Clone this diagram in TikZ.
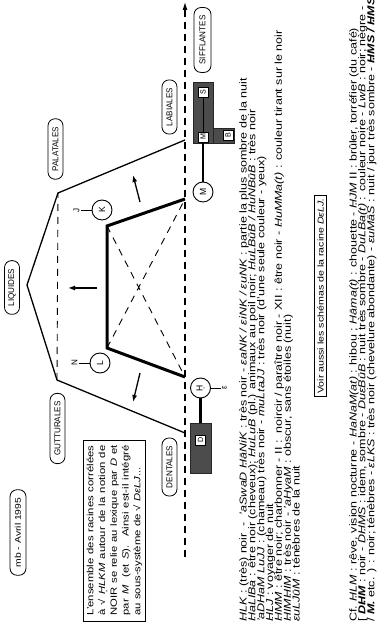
\documentclass[tikz,border=0pt]{standalone}
\usepackage{fontspec}
\setmainfont{Liberation Sans}[FakeStretch=1.25]
\newfontfamily\etiq{Liberation Sans}[FakeStretch=0.95]
\usetikzlibrary{positioning, arrows.meta}

\newcommand{\Hd}{\oalign{H\crcr\hidewidth.\hidewidth}}

\tikzset{
    zone/.style = {draw, rounded corners=7pt, line width=0.8pt, minimum height=15pt,
        inner xsep=8pt, inner ysep=0pt, font=\etiq\fontsize{8.5}{9}\selectfont},
    phon/.style = {draw, circle, line width=0.9pt, minimum size=20pt, inner sep=0pt,
        font=\etiq\fontsize{9}{10}\selectfont},
    voisin/.style = {inner sep=1pt, font=\etiq\fontsize{8.5}{9}\selectfont},
    bloc/.style = {fill=black!70, draw=black!85, line width=0.4pt, inner sep=0pt},
    lettre/.style = {draw, fill=white, line width=0.6pt, minimum width=10pt,
        minimum height=10pt, inner sep=0pt, font=\etiq\fontsize{7.5}{8}\selectfont},
    texte/.style = {align=left, inner sep=0pt,
        font={\fontsize{10}{8.85}\selectfont\lineskiplimit=-20pt\lineskip=0pt}},
    axe/.style = {dash pattern=on 7pt off 5pt, line width=1.1pt},
    repere/.style = {dash pattern=on 7pt off 6pt, line width=0.9pt},
    cadre/.style = {line width=1.3pt},
    noyau/.style = {line width=3pt},
    liaison/.style = {line width=2.4pt},
    fleche/.style = {-{Latex[length=7pt, width=5pt]}, line width=1.3pt}
}

\begin{document}
\begin{tikzpicture}[x=1pt, y=1pt, rotate=90, transform shape]
    \useasboundingbox (0,0) rectangle (628,-385);

    \coordinate (axe0) at (71,-185);
    \coordinate (axe1) at (626,-185);
    \draw[axe, -{Latex[length=8pt, width=5pt]}] (axe0) -- (axe1);

    \coordinate (o1) at (195,-185);
    \coordinate (o2) at (248,-57);
    \coordinate (o3) at (343,-27);
    \coordinate (o4) at (435,-58);
    \coordinate (o5) at (488,-185);
    \draw[cadre] (o1) -- (o2) -- (o3) -- (o4) -- (o5);
    \draw[repere] (o2) -- (o4);

    \coordinate (i1) at (251,-185);
    \coordinate (i2) at (280,-107);
    \coordinate (i3) at (402,-107);
    \coordinate (i4) at (429,-185);
    \draw[repere] (i2) -- (i4) (i3) -- (i1);
    \draw[noyau] (i1) -- (i2) -- (i3) -- (i4);

    \coordinate (haut0) at (340,-97);
    \coordinate (haut1) at (340,-68);
    \coordinate (droite0) at (426,-140);
    \coordinate (droite1) at (453,-133);
    \coordinate (gauche0) at (255,-140);
    \coordinate (gauche1) at (226,-133);
    \draw[fleche] (haut0) -- (haut1);
    \draw[fleche] (droite0) -- (droite1);
    \draw[fleche] (gauche0) -- (gauche1);

    \node[zone, minimum height=17pt] (siff) at (588,-202.5) {SIFFLANTES};
    \node[zone] (lab) at (521,-169.5) {LABIALES};
    \node[zone] (pal) at (479,-55.5) {PALATALES};
    \node[zone] (liq) at (340.5,-12) {LIQUIDES};
    \node[zone] (gut) at (199.5,-57.5) {GUTTURALES};
    \node[zone] (dent) at (161,-169.5) {DENTALES};
    \node[zone, minimum height=16pt, font=\fontsize{8.3}{9}\selectfont] (date) at (95.5,-18) {mb - Avril 1995};

    \node[phon] (k) at (418,-102) {K};
    \node[voisin, above=11pt of k] (j) {J};
    \node[phon] (l) at (265,-100) {L};
    \node[voisin, above=11pt of l] (n) {N};
    \node[phon] (h) at (240,-200.5) {\Hd};
    \node[voisin, below=10pt of h] (eps) {ε};
    \node[phon] (m) at (436,-203) {M};
    \draw[line width=0.8pt] (j) -- (k);
    \draw[line width=0.8pt] (n) -- (l);
    \draw[line width=0.8pt] (h) -- (eps);

    \node[bloc, minimum width=50pt, minimum height=21pt] (dbloc) at (180,-200.5) {};
    \node[lettre] (d) at (188,-200.5) {D};
    \draw[liaison] (dbloc) -- (h);

    \node[bloc, minimum width=61pt, minimum height=20pt] (msbloc) at (515.5,-203) {};
    \node[bloc, minimum width=15pt, minimum height=21pt] (bbloc) at (492.5,-223.5) {};
    \node[lettre] (mlet) at (491,-203) {M};
    \node[lettre] (slet) at (535.5,-203) {S};
    \node[lettre] (blet) at (492.5,-228) {B};
    \draw[line width=0.6pt] (mlet) -- (slet);
    \draw[liaison] (m) -- (msbloc);

    \node[draw, line width=0.9pt, text width=170pt, align=justify, inner xsep=5.5pt, inner ysep=3pt,
        font=\fontsize{9.05}{11.7}\selectfont] (note) at (97.5,-114.5)
        {\noindent L'ensemble des racines corrélées\linebreak
        à √ \textit{\Hd LKM} autour de la notion de\linebreak
        NOIR se relie au lexique par \textit{D} et\linebreak
        par \textit{M}~ (et \textit{S}).~ Ainsi est-il intégré\linebreak
        au sous-système de √ \textit{DεLJ}...};

    \node[texte, anchor=north west] (lex) at (6,-239) {%
        \textit{\Hd LK} : (très) noir~~-~~\textit{'aSwaD \Hd āNiK} : très noir - \textit{εaNK / εiNK / εuNK} : partie la plus sombre de la nuit\\
        \textit{\Hd aLIBa} : être noir (cheveux); \textit{\Hd uLuB} (pl.) animaux au poil noir; \textit{\Hd uLBūB / \Hd uNBūB} : très noir\\
        \textit{'aDHaM LuJJ} : (chameau) très noir - \textit{muLtaJJ} : très noir (d'une seule couleur - yeux)\\
        \textit{\Hd LJ} : voyager de nuit\\
        \textit{\Hd MM} : être noir; charbonner - II :~ noircir / paraître noir - XII : être noir - \textit{\Hd uMMa(t)} : couleur tirant sur le noir\\
        \textit{\Hd IM\Hd IM} : très noir - \textit{'aHyaM} : obscur, sans étoiles (nuit)\\
        \textit{εuLJūM} : ténèbres de la nuit};

    \node[draw, line width=0.9pt, inner xsep=3pt, inner ysep=2.5pt, font=\fontsize{8.5}{9}\selectfont] (voir) at (332,-320.5)
        {Voir aussi les schémas de la racine \textit{DεLJ.}};

    \node[texte, anchor=north west] (cf) at (6,-349) {%
        Cf. \textit{\Hd LM} : rêve, vision nocturne - \textit{\Hd aNaM(at)} : hibou ; \textit{Hāma(t)} : chouette - \textit{\Hd JM} II : brûler, torréfier (du café)\\
        {[} \textbf{\textit{D\Hd M}} : noir - \textit{D\Hd MS} : idem, sombre - \textit{DuεBūB} : nuit très sombre - \textit{DuLBa(t)} : couleur noire - \textit{LwB} : noir; nègre -\\
        / \textbf{\textit{M.}} etc. ) : noir; ténèbres - \textit{εLKS} : très noir (chevelure abondante) - \textit{εuMāS} : nuit / jour très sombre - \textbf{\textit{\Hd MS / \Hd MS}}};
\end{tikzpicture}
\end{document}
